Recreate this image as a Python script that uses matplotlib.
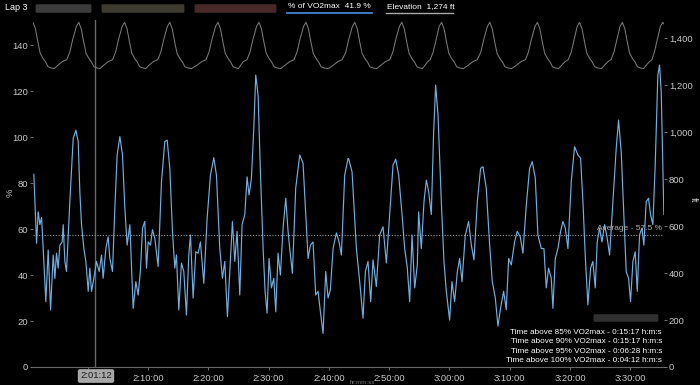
import numpy as np
import matplotlib.pyplot as plt
from matplotlib.patches import FancyBboxPatch
from matplotlib.ticker import FuncFormatter

# minutes after 2:00:00, % of VO2max
vo2_time = [-8.96, -8.51, -8.24, -7.96, -7.68, -7.41, -6.97, -6.58, -6.19, -5.75,
            -5.47, -5.20, -4.92, -4.64, -4.26, -4.09, -3.81, -3.54, -2.99, -2.43,
            -1.99, -1.60, -1.33, -1.05, -0.66, -0.33, 0.06, 0.33, 0.61, 1.00,
            1.44, 1.88, 2.27, 2.54, 2.99, 3.37, 3.65, 4.09, 4.48, 4.86,
            5.31, 5.75, 6.14, 6.52, 6.97, 7.52, 7.96, 8.35, 8.73, 9.07,
            9.45, 9.73, 10.01, 10.39, 10.72, 11.11, 11.66, 12.22, 12.77, 13.16,
            13.60, 14.04, 14.43, 14.70, 15.09, 15.53, 15.92, 16.36, 16.75, 17.03,
            17.47, 17.91, 18.30, 18.68, 19.24, 19.79, 20.34, 20.90, 21.34, 21.89,
            22.33, 22.72, 23.16, 23.55, 23.99, 24.38, 24.76, 25.21, 25.59, 26.04,
            26.42, 26.75, 27.14, 27.53, 27.86, 28.25, 28.63, 29.08, 29.41, 29.74,
            30.07, 30.46, 30.85, 31.18, 31.56, 31.95, 32.39, 32.84, 33.22, 33.50,
            33.94, 34.49, 35.16, 35.71, 36.15, 36.54, 36.93, 37.37, 37.81, 38.20,
            38.59, 39.03, 39.47, 39.86, 40.24, 40.69, 41.24, 41.68, 42.07, 42.62,
            43.17, 43.28, 43.84, 44.56, 45.11, 45.66, 46.05, 46.49, 46.93, 47.32,
            47.87, 48.42, 48.98, 49.53, 50.08, 50.64, 51.08, 51.58, 52.13, 52.57,
            53.01, 53.40, 53.79, 54.23, 54.67, 54.89, 55.33, 55.78, 56.16, 56.55,
            56.99, 57.38, 57.71, 58.10, 58.65, 59.09, 59.48, 60.03, 60.42, 60.86,
            61.31, 61.69, 62.08, 62.63, 63.18, 63.63, 64.07, 64.62, 65.17, 65.56,
            66.11, 66.67, 67.11, 67.61, 68.05, 68.49, 68.99, 69.43, 69.82, 70.26,
            70.81, 71.25, 71.75, 72.19, 72.75, 73.30, 73.74, 74.24, 74.68, 75.24,
            75.68, 76.06, 76.45, 76.89, 77.17, 77.56, 78.00, 78.44, 78.83, 79.22,
            79.66, 80.21, 80.76, 81.32, 81.76, 82.15, 82.53, 82.97, 83.42, 83.80,
            84.19, 84.52, 84.91, 85.30, 85.74, 86.18, 86.57, 87.12, 87.67, 88.06,
            88.50, 88.94, 89.33, 89.72, 90.05, 90.44, 90.82, 91.16, 91.54, 91.93,
            92.26, 92.65, 93.03, 93.37, 93.75, 94.14, 94.58, 94.86, 95.14, 95.58]
vo2_pct = [83.8, 53.8, 67.5, 61.9, 65.0, 51.5, 28.4, 50.9, 24.8, 48.7,
           38.5, 49.5, 43.0, 53.0, 54.4, 61.9, 45.9, 41.5, 71.9, 99.4,
           103.0, 98.0, 76.3, 61.9, 51.5, 45.9, 32.9, 43.0, 32.9, 38.6,
           45.9, 41.5, 48.7, 38.6, 51.5, 56.6, 47.2, 41.5, 69.0, 92.2,
           100.2, 92.2, 69.0, 53.0, 61.9, 25.5, 37.1, 31.3, 42.2, 60.4,
           63.3, 43.0, 54.4, 53.0, 59.7, 56.0, 43.7, 80.6, 98.0, 98.7,
           86.4, 59.0, 43.0, 48.7, 24.8, 45.2, 41.5, 22.6, 48.7, 57.4,
           30.0, 50.1, 49.5, 54.4, 36.4, 64.5, 83.4, 91.0, 83.4, 51.5,
           38.6, 45.9, 21.9, 41.5, 63.3, 45.9, 59.0, 31.3, 61.9, 66.3,
           82.7, 74.8, 82.0, 103.7, 127.0, 118.3, 85.0, 51.5, 32.9, 23.4,
           47.2, 34.4, 38.6, 24.0, 49.5, 40.0, 60.4, 73.4, 59.0, 51.5,
           40.7, 77.7, 92.2, 88.6, 66.3, 47.2, 53.0, 54.4, 31.3, 32.9,
           24.0, 14.6, 41.5, 30.0, 33.6, 51.5, 58.3, 54.4, 48.7, 83.4,
           90.6, 90.6, 84.8, 51.5, 37.1, 21.2, 41.5, 45.9, 28.4, 46.6,
           35.0, 57.4, 61.0, 45.2, 66.3, 87.8, 90.4, 83.4, 66.3, 51.5,
           43.0, 28.4, 57.4, 34.4, 44.4, 67.5, 51.5, 71.9, 81.3, 76.3,
           66.3, 102.3, 122.6, 109.6, 71.9, 45.9, 32.9, 20.4, 37.1, 28.4,
           41.5, 47.2, 37.1, 57.4, 63.3, 53.0, 46.6, 71.9, 86.4, 87.1,
           77.7, 53.0, 37.1, 30.0, 17.8, 25.8, 32.9, 24.9, 47.2, 44.4,
           54.4, 59.0, 56.6, 49.5, 70.4, 86.4, 89.3, 82.2, 57.4, 51.5,
           51.5, 34.4, 43.0, 38.6, 25.5, 47.2, 51.5, 59.0, 63.3, 60.4,
           51.5, 80.6, 95.8, 92.2, 90.8, 71.9, 48.7, 27.0, 43.0, 45.9,
           34.4, 54.4, 60.4, 54.4, 61.9, 56.0, 48.7, 71.9, 95.0, 107.4,
           93.5, 66.3, 41.5, 38.6, 28.4, 45.9, 50.1, 32.9, 57.4, 60.4,
           53.0, 71.9, 73.4, 66.3, 61.9, 87.8, 127.0, 131.3, 119.7, 66.3]

# minutes after 2:00:00, elevation in ft
elev_time = [-9.1, -8.7, -8.3, -7.9, -7.4, -7.0, -6.6, -6.1, -5.6, -4.9, -4.2, -3.5, -3.0, -2.5, -1.9,
             -1.5, -1.1, -0.7, -0.3, 0.2, 0.6, 1.0, 1.5, 2.0, 2.7, 3.4, 4.1, 4.6, 5.1, 5.7,
             6.1, 6.5, 6.9, 7.3, 7.8, 8.2, 8.6, 9.1, 9.6, 10.2, 10.9, 11.6, 12.1, 12.6, 13.2,
             13.6, 14.0, 14.4, 14.8, 15.3, 15.7, 16.1, 16.6, 17.2, 18.2, 18.9, 19.6, 20.1, 20.6, 21.2,
             21.6, 22.0, 22.4, 22.8, 23.3, 23.7, 24.1, 24.6, 25.0, 25.4, 25.8, 26.4, 26.9, 27.4, 28.0,
             28.4, 28.8, 29.2, 29.6, 30.1, 30.5, 30.9, 31.4, 32.0, 32.8, 33.5, 34.2, 34.7, 35.2, 35.8,
             36.2, 36.6, 37.0, 37.4, 37.9, 38.3, 38.7, 39.2, 39.9, 40.8, 41.5, 42.2, 42.8, 43.3, 43.9,
             44.3, 44.7, 45.1, 45.5, 46.0, 46.4, 46.8, 47.3, 47.9, 48.7, 49.4, 50.1, 50.6, 51.1, 51.7,
             52.1, 52.5, 52.9, 53.3, 53.8, 54.2, 54.6, 55.1, 55.5, 56.0, 56.4, 56.8, 57.3, 57.8, 58.3,
             58.7, 59.1, 59.5, 59.9, 60.4, 60.8, 61.2, 61.7, 62.3, 63.2, 63.9, 64.6, 65.2, 65.7, 66.3,
             66.7, 67.1, 67.5, 67.9, 68.4, 68.8, 69.2, 69.7, 70.3, 71.2, 71.9, 72.6, 73.1, 73.6, 74.2,
             74.6, 75.0, 75.4, 75.8, 76.3, 76.7, 77.1, 77.6, 78.1, 78.7, 79.2, 79.7, 80.2, 80.7, 81.2,
             81.6, 82.0, 82.4, 82.8, 83.3, 83.7, 84.1, 84.6, 85.2, 85.8, 86.3, 86.8, 87.3, 87.8, 88.3,
             88.7, 89.1, 89.5, 89.9, 90.4, 90.8, 91.2, 91.7, 92.2, 92.7, 93.2, 93.6, 94.0, 94.5, 95.0,
             95.4, 95.6]
elev_cycle = [1467, 1440, 1385, 1335, 1312, 1298, 1278, 1273, 1270, 1286, 1300, 1308, 1340, 1395, 1450]
elev_ft = elev_cycle * 14 + [1467, 1460]

avg_pct = 57.5
cursor_min = 1.2  # 2:01:12
x_ticks = [0, 10, 20, 30, 40, 50, 60, 70, 80, 90]
pct_ticks = [0, 20, 40, 60, 80, 100, 120, 140]
ft_ticks = [0, 200, 400, 600, 800, 1000, 1200, 1400]
time_above = [("85%", "0:15:17"), ("90%", "0:15:17"), ("95%", "0:06:28"), ("100%", "0:04:12")]

plt.rcParams['font.family'] = ['Liberation Sans', 'DejaVu Sans']
txt = '#c8c8c8'

fig = plt.figure(figsize=(7, 3.85), dpi=100, facecolor='black')
ax = fig.add_axes([33/700, 1 - 367/385, 631/700, 347/385])
ax.set_facecolor('black')
ax2 = ax.twinx()

ax.plot(vo2_time, vo2_pct, color='#72aee0', lw=0.85, zorder=3)
ax2.plot(elev_time, elev_ft, color='#7a7a7a', lw=0.75)
ax.axhline(avg_pct, color='#9a9a9a', lw=0.8, ls=(0, (1, 1.5)), zorder=2)
ax.axvline(cursor_min, color='#6a6a6a', lw=1.0, zorder=1)

ax.set_xlim(-9.1, 95.6)
ax.set_ylim(0, 150.9)
ax2.set_ylim(0, 1477)

def fmt_time(v, pos):
    if abs(v - cursor_min) < 5:
        return ''  # covered by the cursor label
    s = int(round(v * 60)) + 2 * 3600
    return f"{s // 3600}:{(s % 3600) // 60:02d}:{s % 60:02d}"

ax.set_xticks(x_ticks)
ax.xaxis.set_major_formatter(FuncFormatter(fmt_time))
ax.set_yticks(pct_ticks)
ax2.set_yticks(ft_ticks)
ax2.yaxis.set_major_formatter(FuncFormatter(lambda v, p: f"{int(v):,}"))

for a in (ax, ax2):
    for s in a.spines.values():
        s.set_visible(False)
    a.tick_params(colors='#888888', labelcolor=txt, labelsize=6.8, length=2, width=0.6, pad=1.5)
ax.spines['bottom'].set_visible(True)
ax.spines['bottom'].set_color('#666666')
ax.spines['bottom'].set_linewidth(0.8)
ax.tick_params(axis='x', pad=3)

fig.text(10/700, 1 - 193/385, '%', color=txt, fontsize=6.8, rotation=90, ha='center', va='center')
fig.text(693/700, 1 - 200/385, 'ft', color=txt, fontsize=6.8, rotation=270, ha='center', va='center')
fig.text(350/700, 1 - 382/385, 'hr:mm:ss', color='#777777', fontsize=4.5, ha='left', va='center')

# header
fig.text(5/700, 1 - 8/385, 'Lap 3', color='white', fontsize=6.5, ha='left', va='center')
for x0, x1, c in [(37, 90, '#4a4a4a'), (103, 183, '#4d4a3c'), (196, 275, '#5a3434')]:
    fig.patches.append(FancyBboxPatch((x0/700, 1 - 12/385), (x1 - x0)/700, 7/385,
                                      boxstyle='round,pad=0.002', transform=fig.transFigure,
                                      fc=c, ec='none', alpha=0.8))
fig.text(288/700, 1 - 7/385, '% of VO2max  41.9 %', color='white', fontsize=6, ha='left', va='center')
fig.add_artist(plt.Line2D([287/700, 372/700], [1 - 12.5/385] * 2, color='#4a90d9', lw=1.2,
                          transform=fig.transFigure))
fig.text(387/700, 1 - 7/385, 'Elevation  1,274 ft', color='white', fontsize=6, ha='left', va='center')
fig.add_artist(plt.Line2D([386/700, 453/700], [1 - 12.5/385] * 2, color='#aaaaaa', lw=1.0,
                          transform=fig.transFigure))

# annotations
fig.text(662/700, 1 - 229/385, f'Average - {avg_pct} %', color='#b0b0b0', fontsize=6,
         ha='right', va='center')
fig.patches.append(FancyBboxPatch((595/700, 1 - 321/385), 62/700, 6/385,
                                  boxstyle='round,pad=0.002', transform=fig.transFigure,
                                  fc='#3c3c3c', ec='none', alpha=0.8))
for i, (lvl, dur) in enumerate(time_above):
    fig.text(662/700, 1 - (332 + 9.6 * i)/385, f'Time above {lvl} VO2max - {dur} h:m:s',
             color='white', fontsize=5.9, ha='right', va='center')

fig.text(96/700, 1 - 376/385, '2:01:12', color='#1a1a1a', fontsize=6.8, ha='center', va='center',
         bbox=dict(boxstyle='round,pad=0.25', fc='#a8a8a8', ec='none'))

plt.savefig('out.png', dpi=100, facecolor='black')
